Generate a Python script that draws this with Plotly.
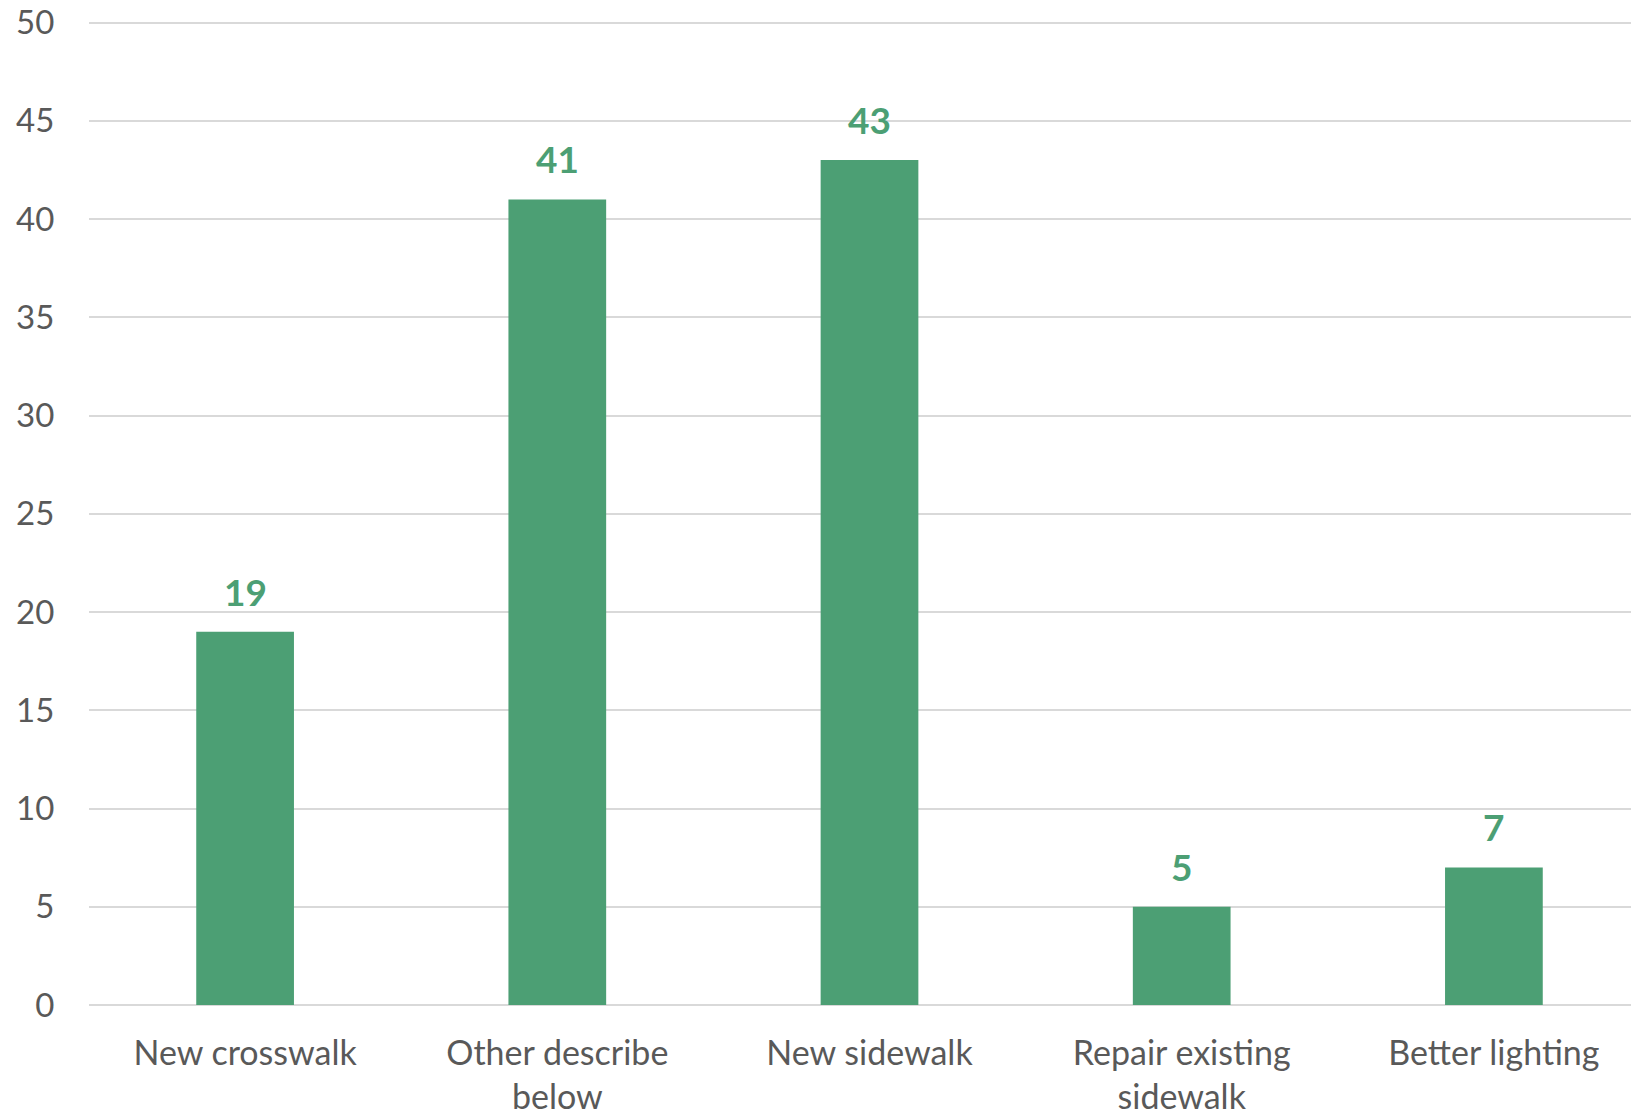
import plotly.graph_objects as go

categories = ["New crosswalk", "Other describe<br>below", "New sidewalk", "Repair existing<br>sidewalk", "Better lighting"]
values = [19, 41, 43, 5, 7]
y_ticks = [0, 5, 10, 15, 20, 25, 30, 35, 40, 45, 50]

GREEN = "#4C9F74"
GRAY = "#595959"
FONT = "Lato, 'Open Sans', sans-serif"

fig = go.Figure()
fig.add_trace(go.Bar(x=categories, y=values, marker=dict(color=GREEN, line=dict(width=0)),
                     width=0.313, hoverinfo="skip"))

for c, v in zip(categories, values):
    fig.add_annotation(x=c, y=v, text=f"<b>{v}</b>", showarrow=False, yanchor="bottom",
                       yshift=16, font=dict(family=FONT, size=37, color=GREEN))

fig.update_layout(
    width=1650, height=1112,
    margin=dict(l=89, r=0, t=21, b=107),
    paper_bgcolor="white", plot_bgcolor="white",
    showlegend=False,
    font=dict(family=FONT, size=34, color=GRAY),
)
fig.update_xaxes(showgrid=False, showline=False, zeroline=False, automargin=False,
                 tickfont=dict(family=FONT, size=34, color=GRAY),
                 ticks="outside", ticklen=18, tickcolor="rgba(0,0,0,0)")
fig.update_yaxes(range=[0, 50.08], tickvals=y_ticks, showgrid=True, gridcolor="#D9D9D9", gridwidth=2,
                 zeroline=True, zerolinecolor="#D9D9D9", zerolinewidth=2, showline=False, automargin=False,
                 tickfont=dict(family=FONT, size=33, color=GRAY),
                 ticks="outside", ticklen=27, tickcolor="rgba(0,0,0,0)")

fig.write_html("out.html", config={"displayModeBar": False},
               post_script="document.body.style.margin='0px';document.body.style.overflow='hidden';")
